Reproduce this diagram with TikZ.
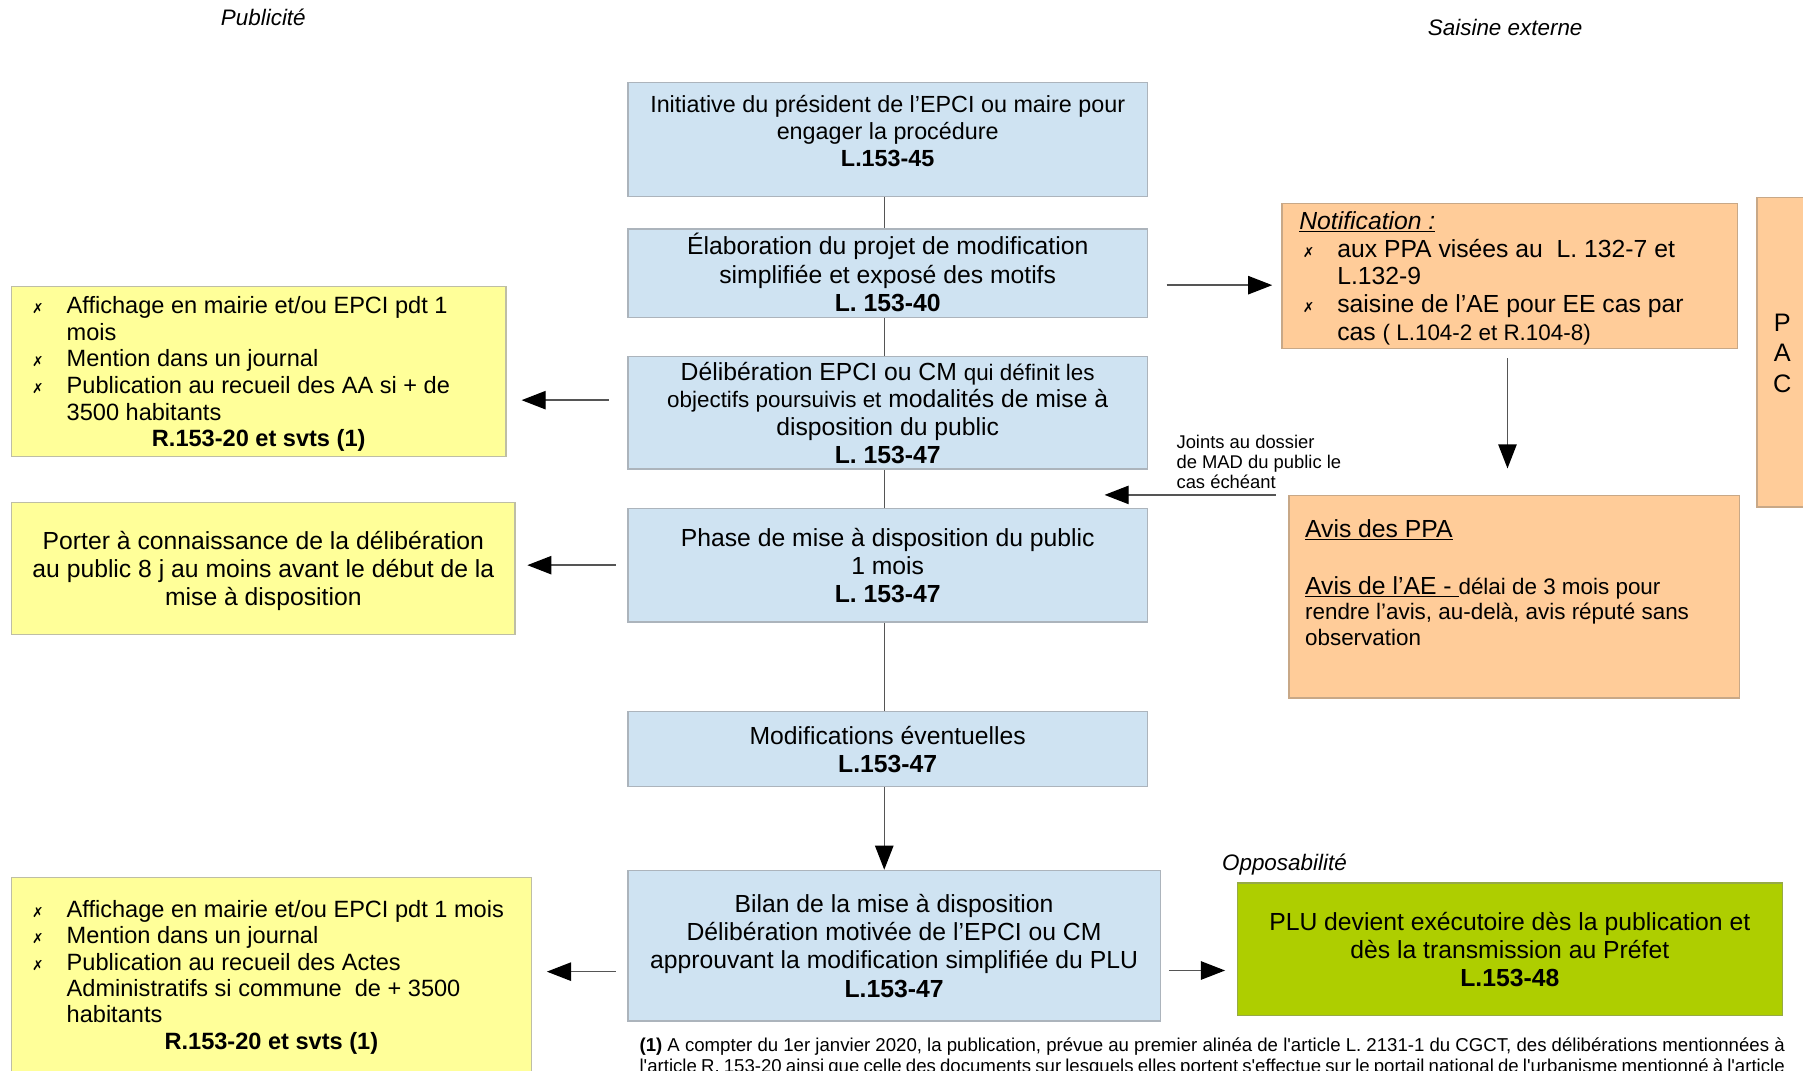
\documentclass[tikz,border=0pt]{standalone}
\usepackage{fontspec}
\setmainfont{Liberation Sans}
\newfontfamily\dejavu{DejaVu Sans}
\usetikzlibrary{arrows.meta}
\definecolor{bfill}{RGB}{207,227,242}
\definecolor{bdraw}{RGB}{172,180,188}
\definecolor{yfill}{RGB}{255,255,153}
\definecolor{ydraw}{RGB}{190,190,165}
\definecolor{ofill}{RGB}{255,204,153}
\definecolor{odraw}{RGB}{200,168,135}
\definecolor{gfill}{RGB}{174,206,0}
\definecolor{gdraw}{RGB}{150,170,70}
\definecolor{lcol}{RGB}{85,85,85}
\newcommand{\fsz}[2]{\fontsize{#1}{#2}\selectfont}
\newcommand{\bx}{{\dejavu\fontsize{12}{12}\selectfont ✗}}
\newcommand{\dn}[1]{\raisebox{-3pt}[\height][\depth]{#1}}
\newcommand{\ctab}[1]{\dn{\begin{tabular}{@{}c@{}}#1\end{tabular}}}
\newcommand{\sq}{\textquotesingle}
\begin{document}
\begin{tikzpicture}[x=1pt,y=-1pt,
  box/.style={rectangle, inner sep=0pt, line width=1.2pt, text=black},
  bluebox/.style={box, fill=bfill, draw=bdraw, font=\fsz{21.5}{24.5}},
  yelbox/.style={box, fill=yfill, draw=ydraw, font=\fsz{21.5}{24}},
  orbox/.style={box, fill=ofill, draw=odraw, font=\fsz{21.5}{24.5}},
  grbox/.style={box, fill=gfill, draw=gdraw, font=\fsz{21.5}{24.5}},
  lab/.style={font=\fsz{19.5}{22}\itshape, inner sep=0pt},
  lin/.style={draw=lcol, line width=1.2pt},
  arr/.style={draw=lcol, line width=1.2pt, -{Triangle[length=21pt,width=16pt,color=black]}},
]
\useasboundingbox (0,0) rectangle (1568,931);
\clip (0,0) rectangle (1568,931);

% headers
\node[lab] (pub) at (229,15) {Publicité};
\node[lab] (sai) at (1309,24) {Saisine externe};
\node[lab] (opp) at (1117,752) {Opposabilité};

% central column
\node[bluebox, minimum width=452pt, minimum height=99pt] (B1) at (772,121.5) {};
\node[inner sep=0pt, font=\fsz{20.3}{23.5}] (B1t) at ([yshift=8pt]B1.center)
  {\ctab{Initiative du président de l’EPCI ou maire pour\\ engager la procédure\\ \textbf{L.153-45}}};
\node[bluebox, minimum width=452pt, minimum height=77pt] (B2) at (772,237.5)
  {\ctab{Élaboration du projet de modification\\ simplifiée et exposé des motifs\\ \textbf{L. 153-40}}};
\node[bluebox, minimum width=452pt, minimum height=98pt, font=\fsz{21.5}{24}] (B3) at (772,359)
  {\ctab{Délibération EPCI ou CM {\fsz{19.5}{24}qui définit les}\\ {\fsz{19.5}{24}objectifs poursuivis et} modalités de mise à\\ disposition du public\\ \textbf{L. 153-47}}};
\node[bluebox, minimum width=452pt, minimum height=99pt] (B4) at (772,491.5)
  {\ctab{Phase de mise à disposition du public\\ 1 mois\\ \textbf{L. 153-47}}};
\node[bluebox, minimum width=452pt, minimum height=65pt] (B5) at (772,651.5)
  {\ctab{Modifications éventuelles\\ \textbf{L.153-47}}};
\node[bluebox, minimum width=463pt, minimum height=131pt] (B6) at (777.5,822.5)
  {\ctab{Bilan de la mise à disposition\\ Délibération motivée de l’EPCI ou CM\\ approuvant la modification simplifiée du PLU\\ \textbf{L.153-47}}};

% left column
\node[yelbox, minimum width=430pt, minimum height=148pt, font=\fsz{20.5}{23.2}] (Y1) at (225,323)
  {\dn{\begin{tabular}{@{}l@{}l@{}}
  \makebox[30pt][l]{\bx} & \makebox[364pt][l]{Affichage en mairie et/ou EPCI pdt 1}\\
  & mois\\
  \bx & Mention dans un journal\\
  \bx & Publication au recueil des AA si + de\\
  & 3500 habitants\\
  \multicolumn{2}{@{}c@{}}{\bfseries R.153-20 et svts (1)}
  \end{tabular}}};
\node[yelbox, minimum width=438pt, minimum height=115pt] (Y2) at (229,494.5)
  {\ctab{Porter à connaissance de la délibération\\ au public 8 j au moins avant le début de la\\ mise à disposition}};
\node[yelbox, minimum width=452pt, minimum height=192pt, font=\fsz{20.5}{23}] (Y3) at (236,859)
  {\dn{\begin{tabular}{@{}l@{}l@{}}
  \makebox[30pt][l]{\bx} & \makebox[386pt][l]{Affichage en mairie et/ou EPCI pdt 1 mois}\\
  \bx & Mention dans un journal\\
  \bx & Publication au recueil des Actes\\
  & Administratifs si commune \ de + 3500\\
  & habitants\\
  \multicolumn{2}{@{}c@{}}{\bfseries R.153-20 et svts (1)}\\
  \mbox{} &
  \end{tabular}}};

% right column
\node[orbox, minimum width=396pt, minimum height=126pt, font=\fsz{21.5}{24.25}] (O1) at (1313,240)
  {\dn{\begin{tabular}{@{}l@{}l@{}}
  \multicolumn{2}{@{}l@{}}{\underline{\textit{Notification :}}}\\
  \makebox[33pt][l]{\hspace{3pt}\bx} & \makebox[333pt][l]{aux PPA visées au \ L. 132-7 et}\\
  & L.132-9\\
  \hspace{3pt}\bx & saisine de l’AE pour EE cas par\\
  & cas {\fsz{19.5}{24}( L.104-2 et R.104-8)}
  \end{tabular}}};
\node[orbox, minimum width=392pt, minimum height=176pt] (O2) at (1317,519)
  {\dn{\begin{tabular}{@{}l@{}}
  \makebox[364pt][l]{\underline{Avis des PPA}}\\
  \\
  \underline{Avis de l’AE -\ }{\fsz{19.5}{22}délai de 3 mois pour}\\[-2pt]
  {\fsz{19.5}{22}rendre l’avis, au-delà, avis réputé sans}\\[-2pt]
  {\fsz{19.5}{22}observation}\\
  \mbox{}
  \end{tabular}}};
\node[orbox, minimum width=44pt, minimum height=269pt, font=\fsz{22}{26.5}] (PAC) at (1550,306.5)
  {\ctab{P\\A\\C}};
\node[grbox, minimum width=474pt, minimum height=115pt] (G) at (1313,825.5)
  {\ctab{PLU devient exécutoire dès la publication et\\ dès la transmission au Préfet\\ \textbf{L.153-48}}};

\node[inner sep=0pt, anchor=west, align=left, font=\fsz{16}{17.5}] (J) at (1023,402)
  {Joints au dossier\\ de MAD du public le\\ cas échéant};

\node[inner sep=0pt, anchor=north west, text width=996pt, align=justify, font=\fsz{16.2}{16.3}] (FN) at (556,902.6)
  {\parfillskip=0pt \tolerance=10000 \strut\textbf{(1)} A compter du 1er janvier 2020, la publication, prévue au premier alinéa de l\sq article L. 2131-1 du CGCT, des délibérations mentionnées à\linebreak l\sq article R. 153-20 ainsi que celle des documents sur lesquels elles portent s\sq effectue sur le portail national de l\sq urbanisme mentionné à l\sq article\par};

% vertical connectors
\draw[lin] ([xshift=-3pt]B1.south) -- ([xshift=-3pt]B1.south |- B2.north);
\draw[lin] ([xshift=-3pt]B2.south) -- ([xshift=-3pt]B2.south |- B3.north);
\draw[lin] ([xshift=-3pt]B3.south) -- ([xshift=-3pt]B3.south |- B4.north);
\draw[lin] ([xshift=-3pt]B4.south) -- ([xshift=-3pt]B4.south |- B5.north);
\draw[arr] ([xshift=-3pt]B5.south) -- ([xshift=-3pt]B5.south |- B6.north);

% side arrows
\draw[arr, shorten <=16pt, shorten >=8pt] ([yshift=-10.5pt]B2.east) -- ([yshift=-10.5pt]B2.east -| O1.west);
\draw[arr, shorten <=16pt, shorten >=13pt] ([yshift=11pt]B3.west) -- ([yshift=11pt]B3.west -| Y1.east);
\draw[arr, shorten <=10pt, shorten >=10pt] (B4.west) -- (B4.west -| Y2.east);
\draw[arr, shorten <=8pt, shorten >=23pt] ([xshift=-2pt]O1.south) -- ([xshift=-2pt]O1.south |- O2.north);
\draw[arr, shorten <=11pt, shorten >=-38pt] (O2.north west) -- (O2.north west -| B4.east);
\draw[arr, shorten <=10pt, shorten >=13pt] ([yshift=-22.5pt]B6.west) -- ([yshift=-22.5pt]B6.west -| Y3.east);
\draw[arr, shorten <=7pt, shorten >=10pt] ([yshift=-21.5pt]B6.east) -- ([yshift=-21.5pt]B6.east -| G.west);
\end{tikzpicture}
\end{document}
